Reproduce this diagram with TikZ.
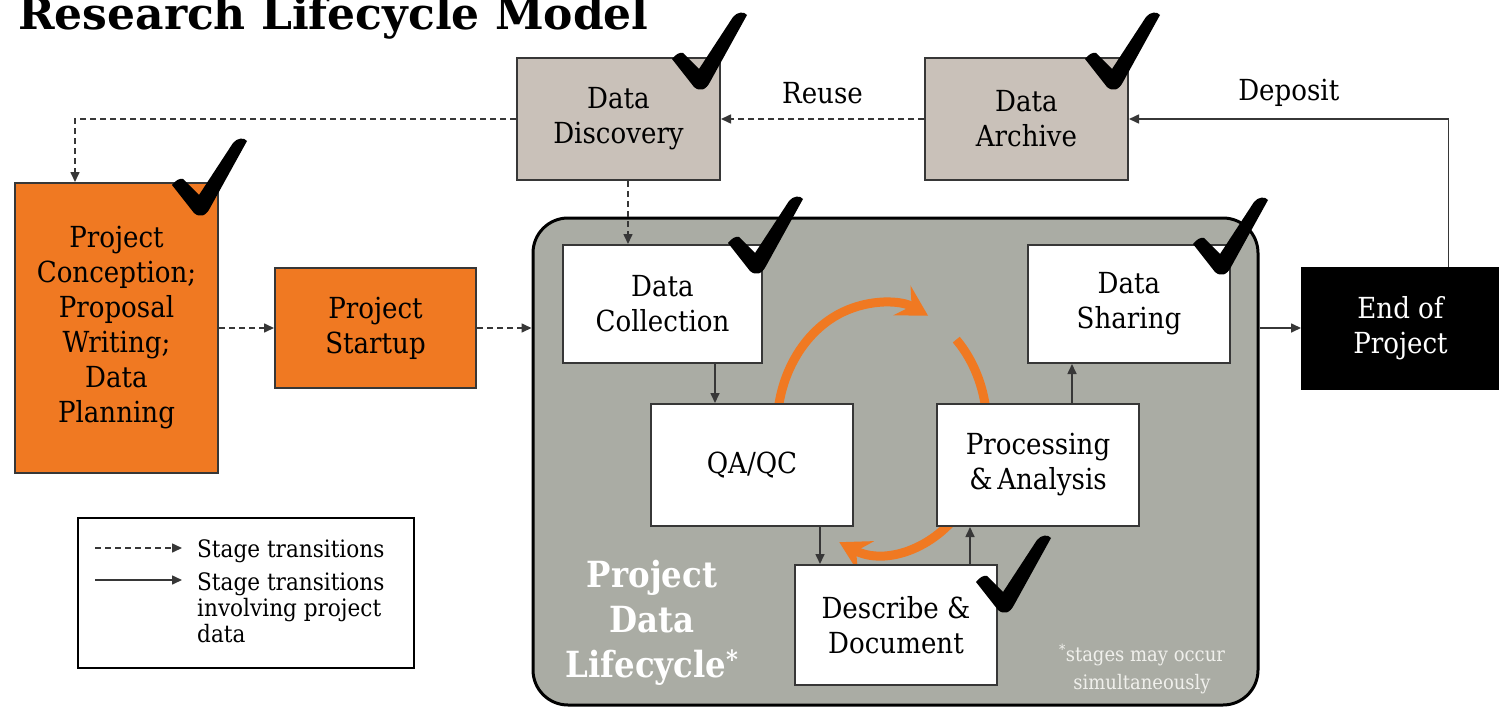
\documentclass[tikz,border=0pt]{standalone}
\usepackage{fontspec}
\setmainfont{DejaVu Serif}[FakeStretch=0.9]
\newfontfamily\titlefont{DejaVu Serif}
\usetikzlibrary{arrows.meta,calc}
\definecolor{orng}{RGB}{240,121,34}
\definecolor{tanbox}{RGB}{201,193,185}
\definecolor{lcgray}{RGB}{170,172,164}
\definecolor{bord}{RGB}{55,55,55}
\definecolor{foot}{RGB}{240,240,236}
\tikzset{
  box/.style={draw=bord, line width=2pt, inner sep=0pt, align=center,
    font=\fontsize{29}{35}\selectfont, text=black},
  arr/.style={-{Triangle[length=10pt,width=9pt]}, line width=1.6pt, draw=bord},
  darr/.style={arr, dash pattern=on 6pt off 4pt},
  oarc/.style={draw=orng, line width=9pt},
  lbl/.style={font=\fontsize{29}{35}\selectfont, inner sep=0pt},
  legtxt/.style={font=\fontsize{24}{26}\selectfont, inner sep=0pt, align=left},
}
\newcommand\chkmark[1]{%
  \fill[black, shift={#1}] (0,47) .. controls (4,42) and (8,40) .. (11,41)
    -- (27,57) -- (61,5) .. controls (65,0) and (72,-1) .. (75,3)
    -- (38,70) .. controls (34,78) and (28,80) .. (22,75) -- cycle;}
\begin{document}
\begin{tikzpicture}[x=1pt,y=-1pt]
\useasboundingbox (0,0) rectangle (1499,709);
\fill[white] (0,0) rectangle (1499,709);

\node[anchor=base west, inner sep=0pt, font=\titlefont\fontsize{44}{44}\selectfont\bfseries] (title) at (18,30) {Research Lifecycle Model};

% big lifecycle area
\node[draw=black, line width=3pt, fill=lcgray, rounded corners=35pt,
  minimum width=725pt, minimum height=487pt, inner sep=0pt] (big) at (895.5,461.5) {};

% orange cycle arcs
\coordinate (oc) at (882,428);
\draw[oarc, -{Stealth[length=30pt,width=34pt,inset=11pt]}]
  ([shift={(-172:105 and 125)}]oc) arc[start angle=-172, end angle=-64, x radius=105, y radius=125];
\draw[oarc] ([shift={(-45:105 and 125)}]oc) arc[start angle=-45, end angle=8, x radius=105, y radius=125];
\draw[oarc, -{Stealth[length=30pt,width=34pt,inset=11pt]}]
  ([shift={(35:105 and 125)}]oc) arc[start angle=35, end angle=114, x radius=105, y radius=125];

% boxes
\node[box, fill=tanbox, minimum width=203pt, minimum height=122pt] (disc) at (618.5,119) {Data\\Discovery};
\node[box, fill=tanbox, minimum width=203pt, minimum height=122pt] (arch) at (1026.5,119) {Data\\Archive};
\node[box, fill=orng, minimum width=203pt, minimum height=290pt] (conc) at (116.5,328) {Project\\Conception;\\Proposal\\Writing;\\Data\\Planning};
\node[box, fill=orng, minimum width=201pt, minimum height=120pt] (start) at (375.5,328) {Project\\Startup};
\node[box, fill=white, minimum width=199pt, minimum height=118pt] (coll) at (662.5,304) {Data\\Collection};
\node[box, fill=white, minimum width=202pt, minimum height=118pt] (share) at (1129,304) {Data\\Sharing};
\node[box, fill=white, minimum width=202pt, minimum height=122pt] (qa) at (752,465) {QA/QC};
\node[box, fill=white, minimum width=202pt, minimum height=122pt] (proc) at (1038,465) {Processing\\\&\,Analysis};
\node[box, fill=white, minimum width=202pt, minimum height=120pt] (desc) at (896,625) {Describe \&\\Document};
\node[box, fill=black, draw=black, text=white, minimum width=197pt, minimum height=121pt] (eop) at (1400.5,328) {End of\\Project};

% labels inside lifecycle area
\node[inner sep=0pt, align=center, text=white, font=\fontsize{36}{45}\selectfont\bfseries] (pdl) at (652,623) {Project\\Data\\Lifecycle\textsuperscript{*}};
\node[inner sep=0pt, align=center, text=foot, font=\fontsize{20}{28}\selectfont] (fn) at (1142,669) {\textsuperscript{*}stages may occur\\simultaneously};

% connectors
\draw[darr] (arch.west) -- node[lbl, above=14pt] (reuse) {Reuse} (disc.east);
\draw[arr] ([xshift=48pt]eop.north) |- node[lbl, pos=0.75, above=12pt] (dep) {Deposit} (arch.east);
\draw[darr] (disc.west) -| ([xshift=-41.5pt]conc.north);
\draw[darr] ([xshift=9.5pt]disc.south) -- ([xshift=9.5pt]disc.south |- coll.north);
\draw[darr] (conc.east) -- (start.west);
\draw[darr] (start.east) -- (start.east -| big.west);
\draw[arr] (eop.west -| big.east) -- (eop.west);
\draw[arr] ([xshift=52.5pt]coll.south) -- ([xshift=52.5pt]coll.south |- qa.north);
\draw[arr] ([xshift=68pt]qa.south) -- ([xshift=68pt]qa.south |- desc.north);
\draw[arr] ([xshift=74pt]desc.north) -- ([xshift=74pt]desc.north |- proc.south);
\draw[arr] ([xshift=34pt]proc.north) -- ([xshift=34pt]proc.north |- share.south);

% legend
\node[draw=black, line width=2pt, fill=white, minimum width=336pt, minimum height=150pt, inner sep=0pt] (leg) at (246,593) {};
\coordinate (l1a) at (95,548); \coordinate (l1b) at (182,548);
\coordinate (l2a) at (95,580); \coordinate (l2b) at (182,580);
\draw[darr] (l1a) -- (l1b);
\draw[arr] (l2a) -- (l2b);
\node[legtxt, anchor=west] (lt1) at (197,551) {Stage transitions};
\node[legtxt, anchor=north west] (lt2) at (197,572) {Stage transitions\\involving project\\data};

% check marks
\chkmark{(672,12)}
\chkmark{(1085,12)}
\chkmark{(172,138)}
\chkmark{(728,196)}
\chkmark{(1193,197)}
\chkmark{(976,535)}
\end{tikzpicture}
\end{document}
